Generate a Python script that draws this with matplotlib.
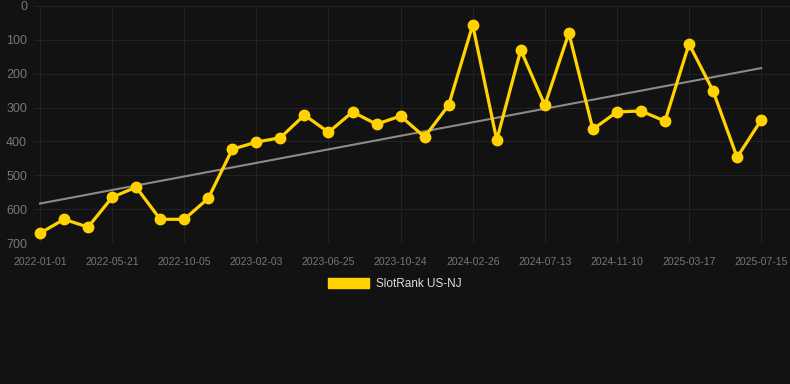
import numpy as np
import matplotlib
matplotlib.use("Agg")
import matplotlib.pyplot as plt
from matplotlib.patches import Patch

# SlotRank US-NJ, one point every ~6 weeks (category axis)
ranks = [671, 630, 653, 565, 535, 630, 630, 568, 423, 402, 389,
         322, 373, 313, 349, 325, 387, 293, 56, 396, 130, 293,
         80, 364, 313, 310, 340, 112, 251, 447, 337]
tick_labels = ["2022-01-01", "2022-05-21", "2022-10-05", "2023-02-03",
               "2023-06-25", "2023-10-24", "2024-02-26", "2024-07-13",
               "2024-11-10", "2025-03-17", "2025-07-15"]
y_ticks = [0, 100, 200, 300, 400, 500, 600, 700]

BG = "#121212"
GOLD = "#FFD200"

plt.rcParams["font.family"] = ["Liberation Sans", "DejaVu Sans"]

W, H = 790, 384
fig = plt.figure(figsize=(W / 100, H / 100), dpi=100)
fig.patch.set_facecolor(BG)
ax = fig.add_axes([34 / W, 1 - 243 / H, (W - 34) / W, 237 / H])
ax.set_facecolor(BG)

x = np.arange(len(ranks))
slope, icpt = np.polyfit(x, ranks, 1)
ax.plot(x, slope * x + icpt, color="#8a8a8a", lw=1.5, zorder=2)
ax.plot(x, ranks, color=GOLD, lw=2.3, marker="o", ms=7.5, zorder=3)

ax.set_ylim(700, 0)
ax.set_xlim(-0.25, 31.2)
ax.set_yticks(y_ticks)
ax.set_xticks(np.arange(0, len(ranks), 3))
ax.set_xticklabels(tick_labels)
ax.grid(True, color="#222222", lw=0.8)
ax.set_axisbelow(True)
for s in ax.spines.values():
    s.set_visible(False)
ax.tick_params(length=0, colors="#777777")
ax.tick_params(axis="x", pad=10, labelsize=7.5)
ax.tick_params(axis="y", pad=5, labelsize=9)

fig.legend(handles=[Patch(facecolor=GOLD, edgecolor=GOLD)], labels=["SlotRank US-NJ"],
           loc="center", bbox_to_anchor=(0.5, 1 - 284 / H), frameon=False,
           fontsize=8.5, labelcolor="#dddddd", handlelength=3.5, handleheight=1.0,
           handletextpad=0.6)

fig.savefig("out.png", dpi=100, facecolor=BG)
